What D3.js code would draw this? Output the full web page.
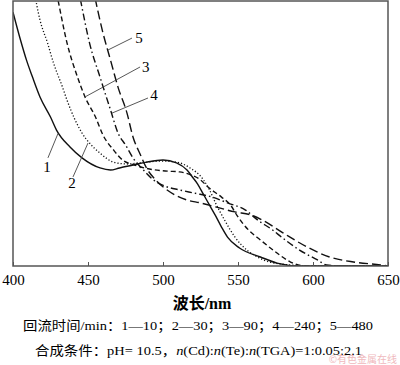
<!DOCTYPE html><html lang="zh"><head>
<meta charset="utf-8"/>
<title>吸收光谱</title>
<script src="https://d3js.org/d3.v7.min.js"></script>
<style>
    body { width: 400px; height: 365px; margin: 0; padding: 0; background: #fff; }
    svg text { font-family: 'Liberation Serif', 'Noto Sans CJK SC', serif; fill: #000; }
</style>
</head>
<body>
<div id="chart"></div>
<script>
    // wavelength (nm) and absorbance (a.u.)
    const wl1 = [400, 405, 409, 413, 418, 425, 429, 438, 446, 458, 465, 471, 480, 489, 500, 509, 516, 520, 523, 527, 531, 535, 539, 543, 551, 565, 576, 591, 650];
    const ab1 = [0.958, 0.853, 0.777, 0.713, 0.638, 0.562, 0.513, 0.449, 0.408, 0.370, 0.362, 0.370, 0.381, 0.392, 0.400, 0.389, 0.362, 0.333, 0.310, 0.270, 0.230, 0.190, 0.147, 0.109, 0.068, 0.034, 0.011, 0, 0];

    const wl2 = [414, 418, 423, 427, 433, 436, 446, 451, 458, 467, 476, 485, 498, 509, 518, 527, 531, 535, 541, 548, 556, 563, 571, 585, 598, 650];
    const ab2 = [1.04, 0.928, 0.842, 0.766, 0.675, 0.626, 0.502, 0.464, 0.426, 0.392, 0.385, 0.389, 0.396, 0.392, 0.370, 0.325, 0.287, 0.238, 0.174, 0.109, 0.060, 0.034, 0.015, 0.004, 0, 0];

    const wl3 = [428, 430, 436, 443, 448, 455, 460, 467, 473, 481, 491, 503, 511, 519, 525, 530, 539, 545, 550, 557, 565, 576, 585, 595, 650];
    const ab3 = [1.06, 1.004, 0.842, 0.713, 0.638, 0.562, 0.494, 0.438, 0.400, 0.381, 0.366, 0.358, 0.355, 0.343, 0.325, 0.298, 0.260, 0.230, 0.185, 0.136, 0.098, 0.049, 0.015, 0, 0];

    const wl4 = [443, 445, 451, 458, 465, 470, 475, 480, 487, 493, 501, 511, 521, 533, 543, 555, 563, 573, 579, 591, 603, 609, 621, 650];
    const ab4 = [1.06, 1.004, 0.842, 0.713, 0.589, 0.502, 0.457, 0.408, 0.362, 0.328, 0.302, 0.287, 0.275, 0.260, 0.238, 0.211, 0.174, 0.136, 0.109, 0.060, 0.023, 0.004, 0, 0];

    const wl5 = [453, 455, 460, 465, 470, 476, 480, 485, 489, 495, 501, 508, 516, 525, 535, 548, 559, 566, 580, 596, 611, 627, 645, 650];
    const ab5 = [1.06, 1.004, 0.879, 0.777, 0.675, 0.577, 0.487, 0.419, 0.370, 0.325, 0.294, 0.268, 0.249, 0.238, 0.223, 0.204, 0.192, 0.174, 0.125, 0.072, 0.034, 0.015, 0.004, 0];

    const xTicks = [400, 450, 500, 550, 600, 650];

    // curve labels: [text, leader start nm, leader start A, leader end nm, leader end A, text nm, text A]
    const curveLabels = [
        ["1", 430, 0.500, 423.3, 0.408, 422.7, 0.374],
        ["2", 450, 0.464, 440, 0.336, 439.3, 0.313],
        ["3", 448, 0.638, 484.7, 0.751, 488.5, 0.751],
        ["4", 466, 0.577, 490, 0.634, 494, 0.645],
        ["5", 463.3, 0.815, 479.3, 0.860, 484, 0.862]
    ];

    const series = [
        { x: wl1, y: ab1, dash: null },
        { x: wl2, y: ab2, dash: "1.2,2" },
        { x: wl3, y: ab3, dash: "5,3" },
        { x: wl4, y: ab4, dash: "7,3,1.5,3" },
        { x: wl5, y: ab5, dash: "9,4" }
    ];

    const W = 400, H = 365;
    const m = { left: 13, right: 388, top: 1, bottom: 266 };

    const svg = d3.select("#chart").append("svg")
        .attr("width", W).attr("height", H);

    const x = d3.scaleLinear().domain([400, 650]).range([m.left, m.right]);
    const y = d3.scaleLinear().domain([0, 1]).range([m.bottom, m.top]);

    svg.append("clipPath").attr("id", "plot")
        .append("rect")
        .attr("x", m.left).attr("y", m.top)
        .attr("width", m.right - m.left).attr("height", m.bottom - m.top);

    const line = d3.line()
        .x(d => x(d[0]))
        .y(d => y(d[1]))
        .curve(d3.curveMonotoneX);

    svg.append("g").attr("clip-path", "url(#plot)")
        .selectAll("path")
        .data(series)
        .enter()
        .append("path")
        .attr("d", s => line(s.x.map((v, i) => [v, s.y[i]])))
        .attr("fill", "none")
        .attr("stroke", "#111")
        .attr("stroke-width", s => s.dash === "1.2,2" ? 1.3 : 1.4)
        .attr("stroke-dasharray", s => s.dash);

    // frame
    svg.append("rect")
        .attr("x", m.left).attr("y", m.top)
        .attr("width", m.right - m.left).attr("height", m.bottom - m.top)
        .attr("fill", "none")
        .attr("stroke", "#555")
        .attr("stroke-width", 1.5);

    // bottom axis, ticks pointing inward
    const ax = svg.append("g")
        .attr("transform", `translate(0,${m.bottom})`)
        .call(d3.axisBottom(x).tickValues(xTicks).tickSizeInner(-4).tickSizeOuter(0).tickPadding(8));
    ax.select(".domain").remove();
    ax.selectAll("line").attr("stroke", "#555");
    ax.selectAll("text")
        .style("font-family", "'Liberation Serif', serif")
        .style("font-size", "15px")
        .attr("fill", "#000");

    // curve labels with leader lines
    svg.selectAll(".leader")
        .data(curveLabels)
        .enter()
        .append("line")
        .attr("class", "leader")
        .attr("x1", d => x(d[1])).attr("y1", d => y(d[2]))
        .attr("x2", d => x(d[3])).attr("y2", d => y(d[4]))
        .attr("stroke", "#444")
        .attr("stroke-width", 0.9);

    svg.selectAll(".clabel")
        .data(curveLabels)
        .enter()
        .append("text")
        .attr("class", "clabel")
        .attr("x", d => x(d[5]))
        .attr("y", d => y(d[6]))
        .attr("dy", "0.35em")
        .attr("text-anchor", "middle")
        .style("font-size", "15px")
        .text(d => d[0]);

    // axis title
    svg.append("text")
        .attr("x", 202).attr("y", 309)
        .attr("text-anchor", "middle")
        .style("font-size", "16px")
        .style("font-weight", "bold")
        .text("波长/nm");

    // caption lines
    svg.append("text")
        .attr("x", 23).attr("y", 330)
        .attr("textLength", 350)
        .attr("lengthAdjust", "spacingAndGlyphs")
        .style("font-size", "13px")
        .text("回流时间/min：1—10；2—30；3—90；4—240；5—480");

    const cap = svg.append("text")
        .attr("x", 35).attr("y", 355)
        .attr("textLength", 327)
        .attr("lengthAdjust", "spacingAndGlyphs")
        .style("font-size", "13px");
    cap.append("tspan").text("合成条件：pH= 10.5，");
    cap.append("tspan").style("font-style", "italic").text("n");
    cap.append("tspan").text("(Cd):");
    cap.append("tspan").style("font-style", "italic").text("n");
    cap.append("tspan").text("(Te):");
    cap.append("tspan").style("font-style", "italic").text("n");
    cap.append("tspan").text("(TGA)=1:0.05:2.1");

    // watermark
    svg.append("text")
        .attr("x", 397).attr("y", 363)
        .attr("text-anchor", "end")
        .style("font-size", "10px")
        .style("font-family", "'Noto Sans CJK SC', sans-serif")
        .style("fill", "#efb9bd")
        .text("©有色金属在线");
</script>
</body></html>
